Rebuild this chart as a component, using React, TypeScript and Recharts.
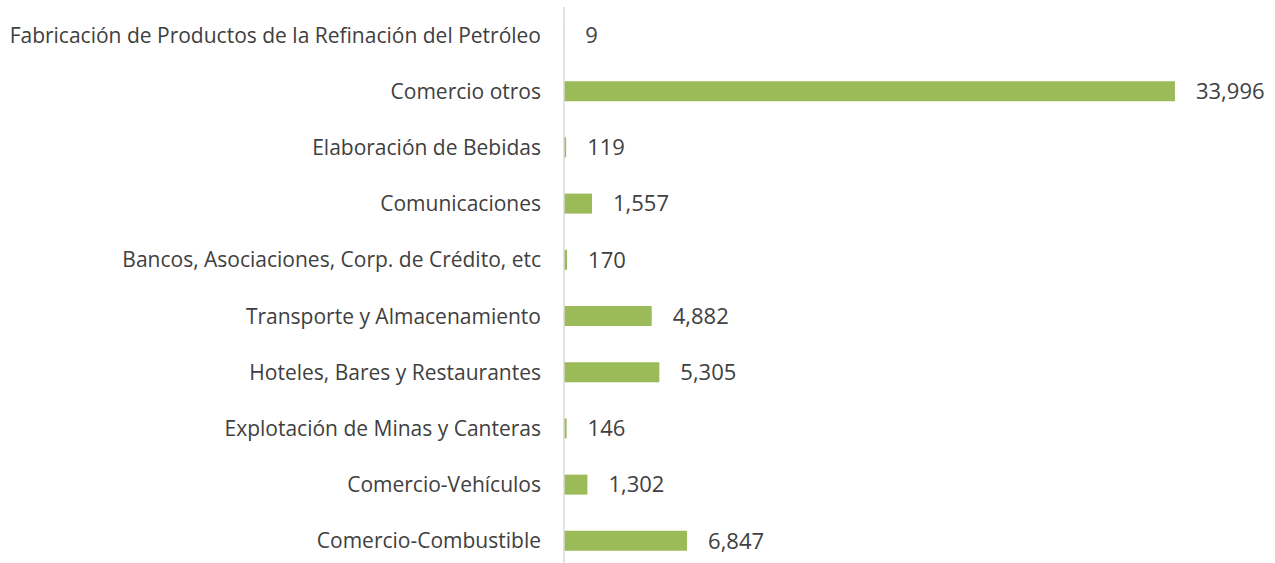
import React from 'react';
import { BarChart, Bar, XAxis, YAxis, LabelList } from 'recharts';

const categories = [
  'Fabricación de Productos de la Refinación del Petróleo',
  'Comercio otros',
  'Elaboración de Bebidas',
  'Comunicaciones',
  'Bancos, Asociaciones, Corp. de Crédito, etc',
  'Transporte y Almacenamiento',
  'Hoteles, Bares y Restaurantes',
  'Explotación de Minas y Canteras',
  'Comercio-Vehículos',
  'Comercio-Combustible',
];

const values = [9, 33996, 119, 1557, 170, 4882, 5305, 146, 1302, 6847];

const data = categories.map((name, i) => ({ name, value: values[i] }));

const FONT = '"Open Sans", sans-serif';
const TEXT = '#404040';

export default function App() {
  return (
    <div style={{ position: 'absolute', left: 0, top: 0, width: 1275, height: 563, overflow: 'hidden', background: '#fff' }}>
      <BarChart
        width={1275}
        height={570}
        data={data}
        layout="vertical"
        margin={{ top: 7, right: 82, bottom: 1, left: 0 }}
        barCategoryGap={0}
      >
        <XAxis type="number" domain={[0, 35000]} hide />
        <YAxis
          type="category"
          dataKey="name"
          width={564}
          tickLine={false}
          tickSize={0}
          tickMargin={23}
          axisLine={{ stroke: '#d9d9d9', strokeWidth: 1.5 }}
          tick={{ fill: TEXT, fontSize: 21, fontFamily: FONT }}
          interval={0}
        />
        <Bar dataKey="value" fill="#9bbb59" barSize={20} isAnimationActive={false}>
          <LabelList
            dataKey="value"
            position="right"
            offset={21}
            formatter={(v: number) => v.toLocaleString('en-US')}
            style={{ fill: TEXT, fontSize: 22, fontFamily: FONT }}
          />
        </Bar>
      </BarChart>
    </div>
  );
}
